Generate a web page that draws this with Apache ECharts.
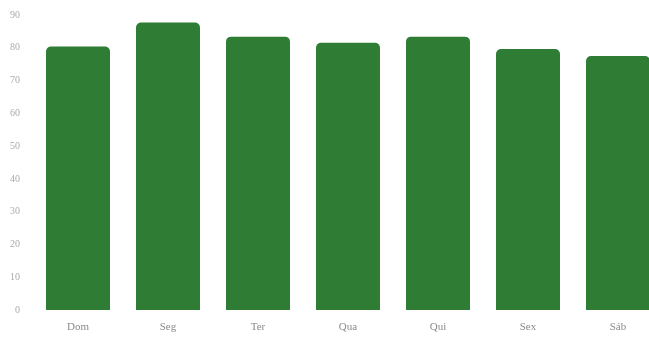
<!DOCTYPE html>
<html>
<head>
<meta charset="utf-8">
<script src="https://cdn.jsdelivr.net/npm/echarts@6/dist/echarts.min.js"></script>
<style>
    html, body { margin: 0; padding: 0; background: #fff; }
    #chart { width: 649px; height: 343px; }
</style>
</head>
<body>
<div id="chart"></div>
<script>
var days = ['Dom', 'Seg', 'Ter', 'Qua', 'Qui', 'Sex', 'Sáb'];
var values = [80.4, 87.7, 83.4, 81.5, 83.4, 79.6, 77.5];
var yTicks = [0, 90, 10]; // min, max, interval

var myChart = echarts.init(document.getElementById('chart'));

var option = {
    backgroundColor: '#fff',
    animation: false,
    grid: {
        left: 33,
        top: 15,
        bottom: 33,
        width: 630,
        outerBoundsMode: 'none'   // let the last bar run past the right edge
    },
    xAxis: {
        type: 'category',
        data: days,
        axisLine: { show: false },
        axisTick: { show: false },
        axisLabel: {
            color: '#8a8a8a',
            fontFamily: 'Liberation Serif',
            fontSize: 11,
            margin: 12
        }
    },
    yAxis: {
        type: 'value',
        min: yTicks[0],
        max: yTicks[1],
        interval: yTicks[2],
        splitLine: { show: false },
        axisLine: { show: false },
        axisTick: { show: false },
        axisLabel: {
            color: '#aaaaaa',
            fontFamily: 'Liberation Serif',
            fontSize: 10,
            margin: 13
        }
    },
    series: [
        {
            type: 'bar',
            barWidth: 64,
            data: values,
            itemStyle: {
                color: '#2f7d34',
                borderRadius: [5, 5, 0, 0]
            }
        }
    ]
};

myChart.setOption(option);
</script>
</body>
</html>
